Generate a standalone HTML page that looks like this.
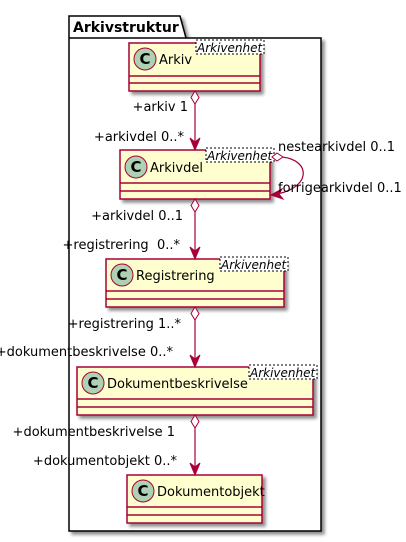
<!DOCTYPE html>
<html><head><meta charset="utf-8"><style>
html,body{margin:0;padding:0;background:#fff;}
svg{display:block;font-family:"DejaVu Sans","Liberation Sans",sans-serif;}
</style></head><body>
<svg width="406" height="542" viewBox="0 0 406 542" xmlns="http://www.w3.org/2000/svg">
<defs>
<filter id="sh" x="-10%" y="-10%" width="130%" height="140%"><feGaussianBlur in="SourceAlpha" stdDeviation="1.5"/><feOffset dx="3" dy="3"/><feComponentTransfer><feFuncA type="linear" slope="0.45"/></feComponentTransfer><feMerge><feMergeNode/><feMergeNode in="SourceGraphic"/></feMerge></filter>
</defs>
<!-- package -->
<g filter="url(#sh)">
<path d="M69,16 L180,16 L186,38 L321,38 L321,531 L69,531 Z" fill="#fff" stroke="#000" stroke-width="1.5"/>
</g>
<line x1="69" y1="38" x2="186" y2="38" stroke="#000" stroke-width="1.5"/>
<text x="73" y="32" font-size="14" font-weight="bold">Arkivstruktur</text>

<!-- classes -->
<g stroke="#A80036" stroke-width="1.5" fill="#FEFECE">
<rect x="129" y="43" width="131" height="48" filter="url(#sh)"/>
<line x1="129" y1="76" x2="260" y2="76"/><line x1="129" y1="83" x2="260" y2="83"/>
<rect x="120" y="150" width="150" height="49" filter="url(#sh)"/>
<line x1="120" y1="183" x2="270" y2="183"/><line x1="120" y1="191" x2="270" y2="191"/>
<rect x="106" y="259" width="178" height="48" filter="url(#sh)"/>
<line x1="106" y1="291" x2="284" y2="291"/><line x1="106" y1="299" x2="284" y2="299"/>
<rect x="77" y="367" width="236" height="48" filter="url(#sh)"/>
<line x1="77" y1="399" x2="313" y2="399"/><line x1="77" y1="407" x2="313" y2="407"/>
<rect x="127" y="475" width="135" height="48" filter="url(#sh)"/>
<line x1="127" y1="507" x2="262" y2="507"/><line x1="127" y1="515" x2="262" y2="515"/>
</g>
<!-- circles -->
<g fill="#ADD1B2" stroke="#A80036" stroke-width="1">
<circle cx="145" cy="59" r="11"/><circle cx="136" cy="167" r="11"/><circle cx="122" cy="275" r="11"/><circle cx="93" cy="383" r="11"/><circle cx="143" cy="491" r="11"/>
</g>
<g font-size="15" font-weight="bold" text-anchor="middle" fill="#000">
<text x="145" y="64">C</text><text x="136" y="172">C</text><text x="122" y="280">C</text><text x="93" y="388">C</text><text x="143" y="496">C</text>
</g>
<g font-size="13" fill="#000">
<text x="159" y="64">Arkiv</text>
<text x="150" y="172">Arkivdel</text>
<text x="136" y="280">Registrering</text>
<text x="107" y="388">Dokumentbeskrivelse</text>
<text x="157" y="496">Dokumentobjekt</text>
</g>
<!-- stereotypes -->
<g fill="#fff" stroke="#000" stroke-width="1" stroke-dasharray="2,2">
<rect x="196" y="40" width="68" height="14"/>
<rect x="206" y="148" width="68" height="14"/>
<rect x="220" y="257" width="68" height="14"/>
<rect x="249" y="365" width="68" height="14"/>
</g>
<g font-size="12" font-style="italic" fill="#000">
<text x="197" y="52">Arkivenhet</text>
<text x="207" y="160">Arkivenhet</text>
<text x="221" y="269">Arkivenhet</text>
<text x="250" y="377">Arkivenhet</text>
</g>
<!-- connectors -->
<g stroke="#A80036" stroke-width="1.2" fill="none">
<line x1="195" y1="104" x2="195" y2="149"/>
<line x1="195" y1="212" x2="195" y2="258"/>
<line x1="195" y1="320" x2="195" y2="366"/>
<line x1="195" y1="428" x2="195" y2="474"/>
<path d="M282,157 C312,160 312,190 271,195"/>
</g>
<g fill="#fff" stroke="#A80036" stroke-width="1">
<path d="M195,91 L199,97.5 L195,104 L191,97.5 Z"/>
<path d="M195,199 L199,205.5 L195,212 L191,205.5 Z"/>
<path d="M195,307 L199,313.5 L195,320 L191,313.5 Z"/>
<path d="M195,415 L199,421.5 L195,428 L191,421.5 Z"/>
<path d="M272,157 L277,153 L283,157 L277,161 Z"/>
</g>
<g fill="#A80036" stroke="#A80036" stroke-width="1">
<path d="M195,150 L190,138 L195,142 L200,138 Z"/>
<path d="M195,259 L190,247 L195,251 L200,247 Z"/>
<path d="M195,367 L190,355 L195,359 L200,355 Z"/>
<path d="M195,475 L190,463 L195,467 L200,463 Z"/>
<path d="M271,195 L282,189 L279,194 L283,199 Z"/>
</g>
<!-- labels -->
<g font-size="13" fill="#000">
<text x="188" y="111" text-anchor="end">+arkiv 1</text>
<text x="184" y="141" text-anchor="end">+arkivdel 0..*</text>
<text x="278" y="151">nestearkivdel 0..1</text>
<text x="278" y="192">forrigearkivdel 0..1</text>
<text x="183" y="220" text-anchor="end">+arkivdel 0..1</text>
<text x="180" y="249" text-anchor="end" xml:space="preserve">+registrering  0..*</text>
<text x="181" y="328" text-anchor="end">+registrering 1..*</text>
<text x="173" y="356" text-anchor="end">+dokumentbeskrivelse 0..*</text>
<text x="175" y="436" text-anchor="end">+dokumentbeskrivelse 1</text>
<text x="177" y="465" text-anchor="end">+dokumentobjekt 0..*</text>
</g>
</svg>
</body></html>
